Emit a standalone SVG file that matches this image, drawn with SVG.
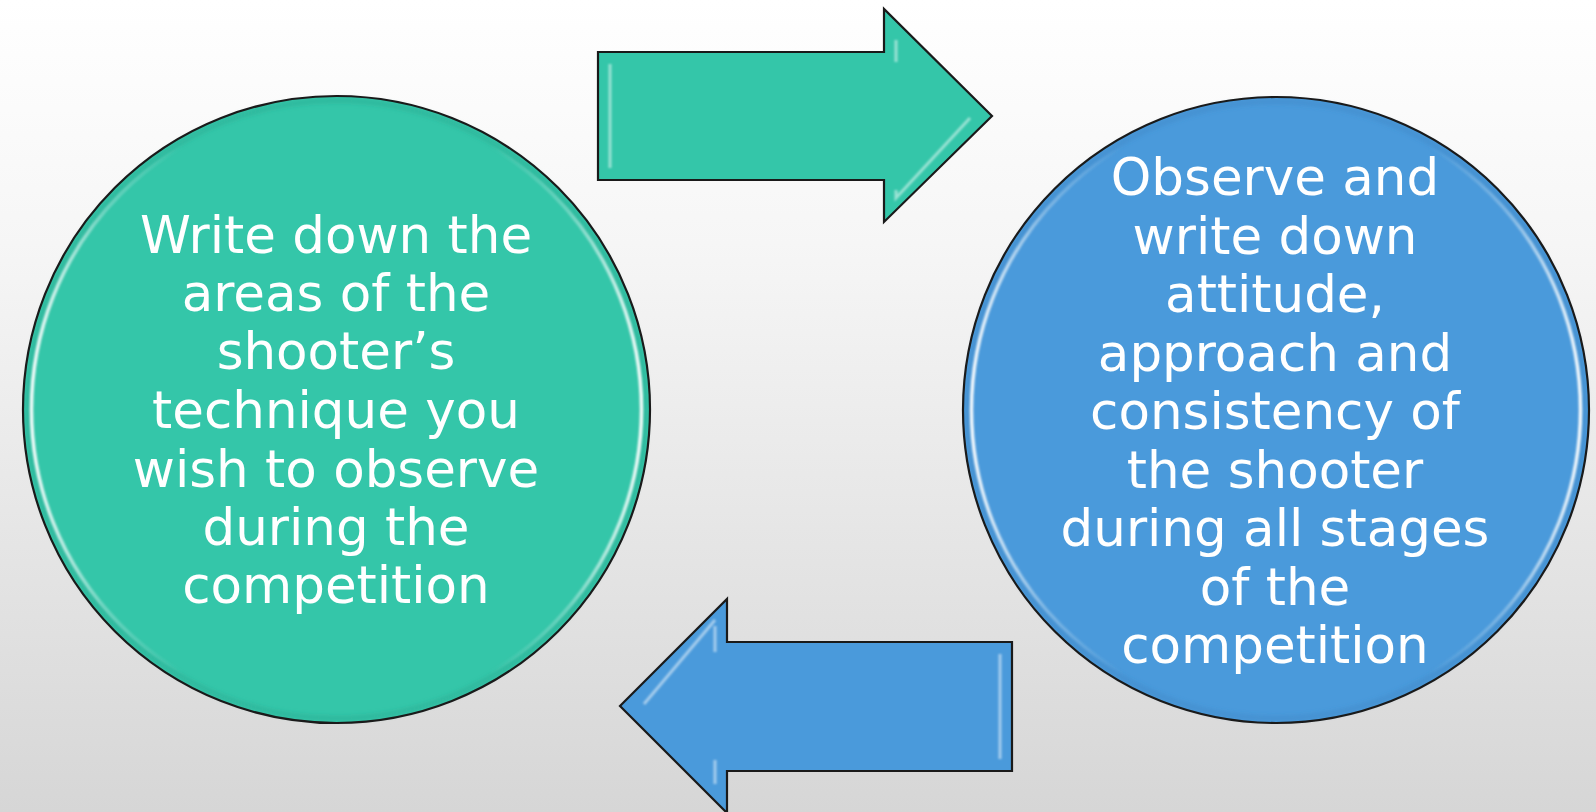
<svg xmlns="http://www.w3.org/2000/svg" width="1596" height="812" viewBox="0 0 1596 812">
  <defs>
    <linearGradient id="bg" x1="0" y1="0" x2="0" y2="1">
      <stop offset="0" stop-color="#ffffff"/>
      <stop offset="0.3" stop-color="#f6f6f6"/>
      <stop offset="1" stop-color="#d6d6d6"/>
    </linearGradient>
    <!-- side-lit rim highlight for the bevelled discs -->
    <linearGradient id="rim" x1="0" y1="0" x2="1" y2="0">
      <stop offset="0" stop-color="#ffffff" stop-opacity="0.95"/>
      <stop offset="0.12" stop-color="#ffffff" stop-opacity="0.3"/>
      <stop offset="0.25" stop-color="#ffffff" stop-opacity="0"/>
      <stop offset="0.75" stop-color="#ffffff" stop-opacity="0"/>
      <stop offset="0.88" stop-color="#ffffff" stop-opacity="0.3"/>
      <stop offset="1" stop-color="#ffffff" stop-opacity="0.95"/>
    </linearGradient>
    <filter id="soft" x="-5%" y="-5%" width="110%" height="110%">
      <feGaussianBlur stdDeviation="1.2"/>
    </filter>
    <filter id="edge" x="-5%" y="-5%" width="110%" height="110%">
      <feGaussianBlur stdDeviation="2"/>
    </filter>
  </defs>
  <style>
    .teal { fill: #34c6a9; }
    .blue { fill: #4a9adb; }
    .outline { fill: none; stroke: #1a1a1a; stroke-width: 2.2; stroke-linejoin: miter; }
    .rim { fill: none; stroke: url(#rim); stroke-width: 3.5; filter: url(#soft); }
    .bevel { fill: none; stroke: #ffffff; stroke-opacity: 0.5; stroke-width: 3; filter: url(#soft); }
    .label { font-family: "DejaVu Sans", "Liberation Sans", sans-serif; font-size: 51.5px; fill: #ffffff; text-anchor: middle; }
  </style>

  <rect x="0" y="0" width="1596" height="812" fill="url(#bg)"/>

  <!-- step connectors -->
  <g id="connectors">
    <g id="arrow-forward">
      <path class="teal" d="M598,52 H884 V9 L992,116 L884,222 V180 H598 Z"/>
      <path class="bevel" d="M610,64 V168 M896,40 V62 M896,190 L896,198 L970,118"/>
      <path class="outline" d="M598,52 H884 V9 L992,116 L884,222 V180 H598 Z"/>
    </g>
    <g id="arrow-back">
      <path class="blue" d="M1012,642 H727 V599 L620,706 L727,813 V771 H1012 Z"/>
      <path class="bevel" d="M1000,654 V759 M715,626 V652 M715,620 L644,704 M715,760 V784"/>
      <path class="outline" d="M1012,642 H727 V599 L620,706 L727,813 V771 H1012 Z"/>
    </g>
  </g>

  <!-- left step -->
  <g id="node-technique">
    <circle class="teal" cx="336.5" cy="409.5" r="313.5"/>
    <circle cx="336.5" cy="409.5" r="309" fill="none" stroke="#2a9f88" stroke-width="5" stroke-opacity="0.35" filter="url(#edge)"/>
    <circle class="rim" cx="336.5" cy="409.5" r="305"/>
    <circle class="outline" cx="336.5" cy="409.5" r="313.5"/>
    <text class="label" x="336" y="253">Write down the</text>
    <text class="label" x="336" y="311">areas of the</text>
    <text class="label" x="336" y="369">shooter’s</text>
    <text class="label" x="336" y="428">technique you</text>
    <text class="label" x="336" y="487">wish to observe</text>
    <text class="label" x="336" y="545">during the</text>
    <text class="label" x="336" y="603">competition</text>
  </g>

  <!-- right step -->
  <g id="node-attitude">
    <circle class="blue" cx="1276" cy="410" r="313"/>
    <circle cx="1276" cy="410" r="308.5" fill="none" stroke="#3a7fbd" stroke-width="5" stroke-opacity="0.35" filter="url(#edge)"/>
    <circle class="rim" cx="1276" cy="410" r="304.5"/>
    <circle class="outline" cx="1276" cy="410" r="313"/>
    <text class="label" x="1275" y="195">Observe and</text>
    <text class="label" x="1275" y="253.5">write down</text>
    <text class="label" x="1275" y="312">attitude,</text>
    <text class="label" x="1275" y="370.5">approach and</text>
    <text class="label" x="1275" y="429">consistency of</text>
    <text class="label" x="1275" y="487.5">the shooter</text>
    <text class="label" x="1275" y="546">during all stages</text>
    <text class="label" x="1275" y="604.5">of the</text>
    <text class="label" x="1275" y="663">competition</text>
  </g>
</svg>
